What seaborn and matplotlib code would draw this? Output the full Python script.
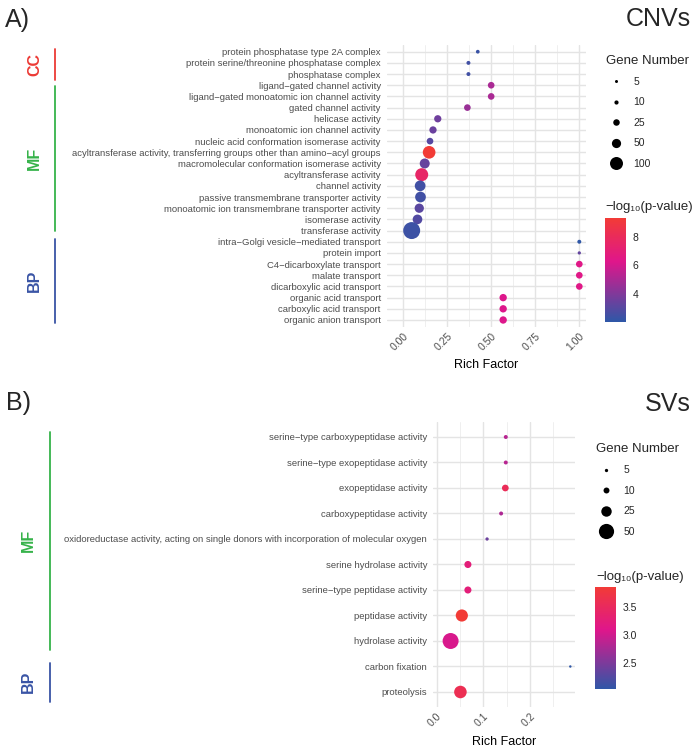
import numpy as np
import pandas as pd
import matplotlib
matplotlib.use("Agg")
import matplotlib.pyplot as plt
import seaborn as sns
from matplotlib.colors import LinearSegmentedColormap, Normalize
from matplotlib.cm import ScalarMappable
from matplotlib.lines import Line2D
from matplotlib.ticker import MultipleLocator, FormatStrFormatter

# ---- panel A: CNVs ----
cnv_terms = [
    "protein phosphatase type 2A complex",
    "protein serine/threonine phosphatase complex",
    "phosphatase complex",
    "ligand\u2212gated channel activity",
    "ligand\u2212gated monoatomic ion channel activity",
    "gated channel activity",
    "helicase activity",
    "monoatomic ion channel activity",
    "nucleic acid conformation isomerase activity",
    "acyltransferase activity, transferring groups other than amino\u2212acyl groups",
    "macromolecular conformation isomerase activity",
    "acyltransferase activity",
    "channel activity",
    "passive transmembrane transporter activity",
    "monoatomic ion transmembrane transporter activity",
    "isomerase activity",
    "transferase activity",
    "intra\u2212Golgi vesicle\u2212mediated transport",
    "protein import",
    "C4\u2212dicarboxylate transport",
    "malate transport",
    "dicarboxylic acid transport",
    "organic acid transport",
    "carboxylic acid transport",
    "organic anion transport",
]
cnv_rich = [0.424, 0.371, 0.371, 0.50, 0.50, 0.365, 0.197, 0.170, 0.153, 0.148,
            0.123, 0.106, 0.097, 0.099, 0.092, 0.082, 0.049,
            1.0, 1.0, 1.0, 1.0, 1.0, 0.568, 0.568, 0.568]
cnv_genes = [8, 9, 9, 26, 26, 26, 31, 31, 26, 95, 59, 100, 68, 68, 51, 55, 171,
             9, 6, 26, 26, 26, 32, 32, 32]
cnv_logp = [2.3, 2.5, 2.5, 5.0, 5.0, 4.6, 3.6, 3.5, 3.0, 9.3, 3.4, 7.6, 2.5, 2.5,
            3.1, 2.9, 2.4, 2.06, 3.3, 6.4, 6.4, 6.4, 6.2, 6.2, 6.2]
cnv_size_breaks = [5, 10, 25, 50, 100]
cnv_cbar_ticks = [4, 6, 8]

# ---- panel B: SVs ----
sv_terms = [
    "serine\u2212type carboxypeptidase activity",
    "serine\u2212type exopeptidase activity",
    "exopeptidase activity",
    "carboxypeptidase activity",
    "oxidoreductase activity, acting on single donors with incorporation of molecular oxygen",
    "serine hydrolase activity",
    "serine\u2212type peptidase activity",
    "peptidase activity",
    "hydrolase activity",
    "carbon fixation",
    "proteolysis",
]
sv_rich = [0.148, 0.148, 0.147, 0.138, 0.108, 0.067, 0.067, 0.054, 0.030, 0.286, 0.051]
sv_genes = [6, 6, 12, 6, 5, 13, 13, 33, 55, 4, 35]
sv_logp = [2.85, 2.85, 3.55, 2.8, 2.4, 3.25, 3.25, 3.86, 3.05, 2.03, 3.6]
sv_size_breaks = [5, 10, 25, 50]
sv_cbar_ticks = [2.5, 3.0, 3.5]

cnv = pd.DataFrame({"term": cnv_terms, "rich": cnv_rich, "genes": cnv_genes, "logp": cnv_logp})
sv = pd.DataFrame({"term": sv_terms, "rich": sv_rich, "genes": sv_genes, "logp": sv_logp})

sns.set_theme(style="white")
plt.rcParams["font.family"] = ["Liberation Sans", "DejaVu Sans"]

cmap = LinearSegmentedColormap.from_list(
    "bp", [(0.0, "#2f57a7"), (0.58, "#df168b"), (1.0, "#f23b36")])

W, H = 694, 749
fig = plt.figure(figsize=(W / 100, H / 100), dpi=100)


def fx(px):
    return px / W


def fy(py):
    return 1 - py / H


def rect(l, t, r, b):
    return [fx(l), fy(b), (r - l) / W, (b - t) / H]


def dot_panel(box, df, hue_norm, size_norm, sizes, xlim, major, minor, fmt):
    ax = fig.add_axes(box)
    sns.scatterplot(data=df, x="rich", y="term", hue="logp", hue_norm=hue_norm, palette=cmap,
                    size="genes", size_norm=size_norm, sizes=sizes, linewidth=0,
                    legend=False, ax=ax, zorder=3)
    ax.set_xlim(*xlim)
    ax.set_ylim(len(df) - 0.4, -0.6)
    ax.xaxis.set_major_locator(MultipleLocator(major))
    ax.xaxis.set_minor_locator(MultipleLocator(minor))
    ax.xaxis.set_major_formatter(FormatStrFormatter(fmt))
    ax.grid(True, which="major", color="#e4e4e4", lw=1.0)
    ax.grid(True, which="minor", axis="x", color="#ececec", lw=0.6)
    ax.set_axisbelow(True)
    for s in ax.spines.values():
        s.set_visible(False)
    ax.tick_params(axis="y", length=3, color="#d5d5d5", pad=1.5, labelsize=6.8, labelcolor="#4d4d4d")
    ax.tick_params(axis="x", which="both", length=0, pad=3, labelsize=7.5, labelcolor="#4d4d4d")
    plt.setp(ax.get_xticklabels(), rotation=45, ha="right", va="top", rotation_mode="anchor")
    ax.set_ylabel("")
    ax.set_xlabel("Rich Factor", fontsize=9, color="black", labelpad=5)
    return ax


def size_legend(ax, breaks, size_norm, sizes, x, y):
    lo, hi = size_norm
    smin, smax = sizes
    handles = [Line2D([], [], ls="", marker="o", color="black", markeredgewidth=0,
                      markersize=np.sqrt(smin + (smax - smin) * (b - lo) / (hi - lo)))
               for b in breaks]
    ax.legend(handles, [str(b) for b in breaks], title="Gene Number", loc="upper left",
              bbox_to_anchor=(fx(x), fy(y)), bbox_transform=fig.transFigure, frameon=False,
              fontsize=7.5, title_fontsize=9.5, alignment="left", borderpad=0,
              borderaxespad=0, labelspacing=1.0, handlelength=2.0, handletextpad=0.6)


def color_bar(box, norm, ticks, title_x, title_y):
    cax = fig.add_axes(box)
    cb = fig.colorbar(ScalarMappable(norm=norm, cmap=cmap), cax=cax)
    cb.outline.set_visible(False)
    cb.set_ticks(ticks)
    cb.ax.yaxis.set_major_formatter(FormatStrFormatter("%g" if ticks[0] == int(ticks[0]) else "%.1f"))
    cax.tick_params(which="both", direction="in", length=4, width=0.7, color="white",
                    left=True, right=True, labelsize=7.5, pad=5)
    fig.text(fx(title_x), fy(title_y), "\u2212log\u2081\u2080(p-value)", fontsize=9.5,
             ha="left", va="center")


def strips(groups, x_line, x_text):
    for label, color, y0, y1 in groups:
        fig.add_artist(Line2D([fx(x_line)] * 2, [fy(y0), fy(y1)], color=color, lw=1.3))
        fig.text(fx(x_text), fy((y0 + y1) / 2), label, rotation=90, color=color,
                 fontsize=11.5, fontweight="bold", ha="center", va="center")


# ---- panel A ----
a_norm = (2.06, 9.3)
a_size_norm, a_sizes = (4, 180), (3.8, 157)
axA = dot_panel(rect(387, 45, 586, 326.7), cnv, a_norm, a_size_norm, a_sizes,
                (-0.091, 1.038), 0.25, 0.125, "%.2f")
size_legend(axA, cnv_size_breaks, a_size_norm, a_sizes, 606, 54.5)
color_bar(rect(605, 218, 625.7, 321.7), Normalize(*a_norm), cnv_cbar_ticks, 605, 207)
strips([("CC", "#ec3a35", 49.3, 80), ("MF", "#36b34a", 86, 230.7), ("BP", "#3954a5", 239.3, 322.7)],
       55, 34.5)
fig.text(fx(5), fy(20), "A)", fontsize=18, ha="left", va="center")
fig.text(fx(691), fy(19), "CNVs", fontsize=18, ha="right", va="center")

# ---- panel B ----
b_norm = (2.03, 3.86)
b_size_norm, b_sizes = (4, 60), (3.1, 145)
axB = dot_panel(rect(433.3, 421.7, 575, 707.3), sv, b_norm, b_size_norm, b_sizes,
                (-0.007, 0.296), 0.1, 0.05, "%.1f")
size_legend(axB, sv_size_breaks, b_size_norm, b_sizes, 596, 443)
color_bar(rect(595, 586.7, 615.7, 689.3), Normalize(*b_norm), sv_cbar_ticks, 596, 577)
strips([("MF", "#36b34a", 431.7, 650), ("BP", "#3954a5", 662.7, 701.7)], 50, 28)
fig.text(fx(6), fy(403), "B)", fontsize=18, ha="left", va="center")
fig.text(fx(691), fy(404), "SVs", fontsize=18, ha="right", va="center")

fig.savefig("out.png", dpi=100)
